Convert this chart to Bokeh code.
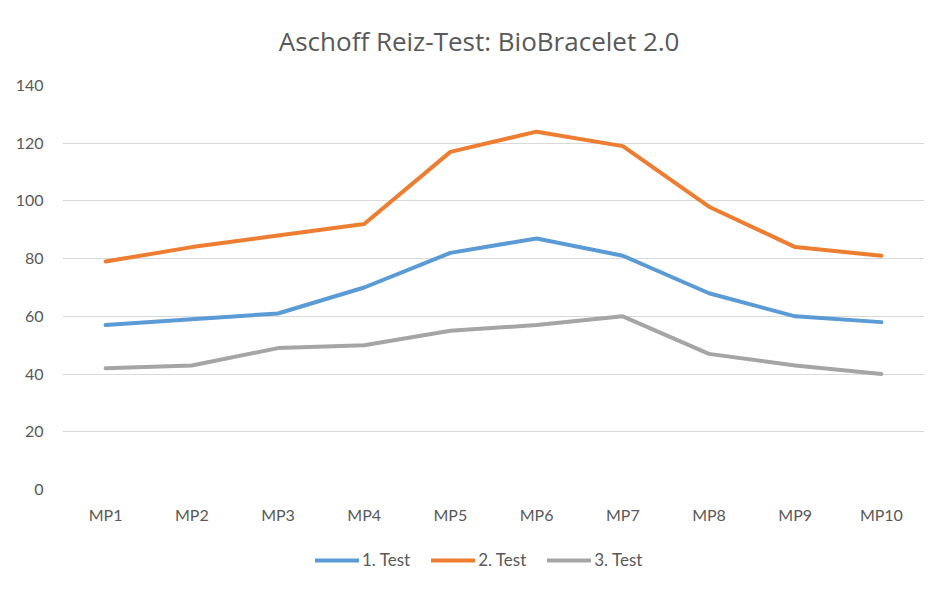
from bokeh.plotting import figure
from bokeh.models import Legend, LegendItem, FactorRange, Range1d, FixedTicker, Label
from bokeh.layouts import column
from bokeh.embed import file_html
from bokeh.resources import INLINE

categories = ["MP1", "MP2", "MP3", "MP4", "MP5", "MP6", "MP7", "MP8", "MP9", "MP10"]
test1 = [57, 59, 61, 70, 82, 87, 81, 68, 60, 58]
test2 = [79, 84, 88, 92, 117, 124, 119, 98, 84, 81]
test3 = [42, 43, 49, 50, 55, 57, 60, 47, 43, 40]
series_names = ["1. Test", "2. Test", "3. Test"]
colors = ["#5B9BD5", "#ED7D31", "#A5A5A5"]
y_ticks = [0, 20, 40, 60, 80, 100, 120, 140]
title_text = "Aschoff Reiz-Test:  BioBracelet 2.0"

FONT = "Lato"
TXT = "#595959"
W = 944

# ---- title strip (frame aligned with the chart frame: pixels 62..924) ----
TH = 70
pt = figure(width=W, height=TH, x_range=Range1d(62, 924), y_range=Range1d(0, TH),
            x_axis_type=None, y_axis_type=None, min_border=0,
            output_backend="svg", toolbar_location=None)
pt.outline_line_color = None
pt.grid.visible = False
pt.add_layout(Label(x=482, y=TH - 40, text=title_text, text_align="center",
                    text_baseline="alphabetic", text_font="Open Sans",
                    text_font_size="26px", text_color=TXT))

# ---- main chart ----
p = figure(x_range=FactorRange(*categories, range_padding=0),
           y_range=Range1d(0, 140),
           frame_width=862, frame_height=404,
           output_backend="svg", toolbar_location=None,
           min_border_left=62, min_border_right=20,
           min_border_top=15, min_border_bottom=37)
p.outline_line_color = None
p.background_fill_color = "white"
p.border_fill_color = "white"
p.xgrid.grid_line_color = None
p.ygrid.grid_line_color = "#D9D9D9"
p.ygrid.grid_line_width = 1
p.yaxis.ticker = FixedTicker(ticks=y_ticks)
for ax in (p.xaxis, p.yaxis):
    ax.axis_line_color = None
    ax.major_tick_line_color = None
    ax.minor_tick_line_color = None
    ax.major_label_text_font = FONT
    ax.major_label_text_font_size = "16px"
    ax.major_label_text_color = TXT
p.yaxis.major_label_standoff = 13
p.xaxis.major_label_standoff = 9

for vals, c in zip([test1, test2, test3], colors):
    p.line(categories, vals, line_color=c, line_width=4,
           line_cap="round", line_join="round")

# ---- legend strip (series drawn out of view; only the legend shows) ----
LH = 68
pl = figure(width=W, height=LH, x_range=FactorRange(*categories, range_padding=0),
            y_range=Range1d(1000, 1001),
            x_axis_type=None, y_axis_type=None, min_border=0,
            output_backend="svg", toolbar_location=None)
pl.outline_line_color = None
pl.grid.visible = False
items = []
for name, vals, c in zip(series_names, [test1, test2, test3], colors):
    r = pl.line(categories, vals, line_color=c, line_width=4, line_cap="round")
    items.append(LegendItem(label=name, renderers=[r]))
legend = Legend(items=items, orientation="horizontal", location=(253, 24),
                label_text_font=FONT, label_text_font_size="17px",
                label_text_color=TXT, glyph_width=44, glyph_height=16,
                label_standoff=3, spacing=21, border_line_color=None,
                background_fill_alpha=0, padding=0, margin=0)
pl.add_layout(legend, "center")

layout = column(pt, p, pl, spacing=0)
open("out.html", "w").write(file_html(layout, INLINE))
